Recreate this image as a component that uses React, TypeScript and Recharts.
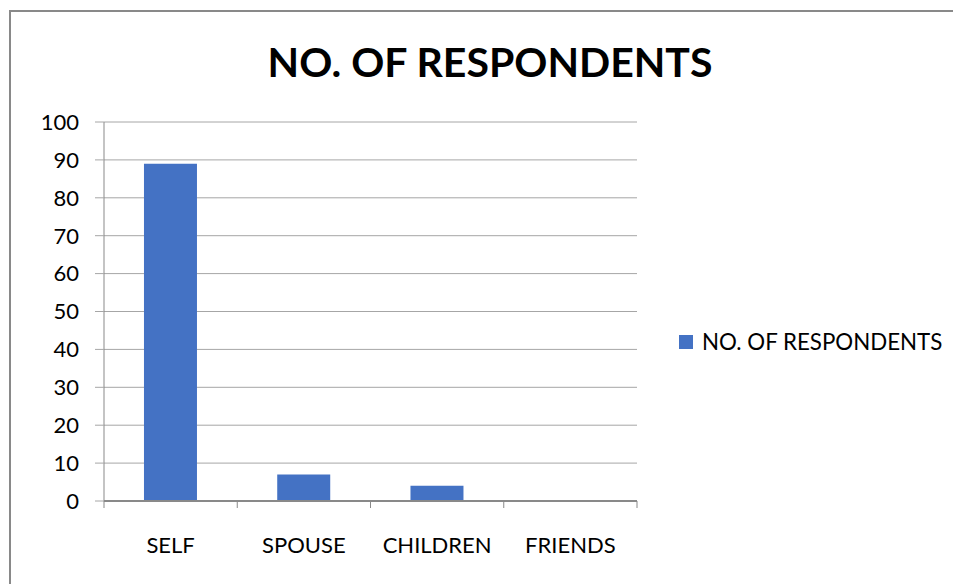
import { BarChart, Bar, XAxis, YAxis, CartesianGrid, Legend } from "recharts";

const categories = ["SELF", "SPOUSE", "CHILDREN", "FRIENDS"];
const respondents = [89, 7, 4, 0];
const yTicks = [0, 10, 20, 30, 40, 50, 60, 70, 80, 90, 100];
const seriesName = "NO. OF RESPONDENTS";
const title = "NO. OF RESPONDENTS";

const data = categories.map((c, i) => ({ name: c, value: respondents[i] }));

const FONT = "Lato, 'Open Sans', sans-serif";
const AXIS = "#898989";
const GRID = "#a6a6a6";
const BLUE = "#4472C4";
const LABEL_GAP = 36;
const EDGE_TICK = 7;

// category label plus the small marks on the band edges
function CategoryTick(props: any) {
  const { x, y, payload, index, visibleTicksCount } = props;
  const half = payload?.offset ?? 0;
  const axisY = y - LABEL_GAP;
  const last = index === visibleTicksCount - 1;
  return (
    <g>
      <line x1={x - half} x2={x - half} y1={axisY} y2={axisY + EDGE_TICK} stroke={AXIS} />
      {last && <line x1={x + half} x2={x + half} y1={axisY} y2={axisY + EDGE_TICK} stroke={AXIS} />}
      <text x={x} y={y} dy="0.71em" textAnchor="middle" fill="#000" fontSize={22} fontFamily={FONT}>
        {payload.value}
      </text>
    </g>
  );
}

function LegendBox({ payload }: any) {
  return (
    <div style={{ fontFamily: FONT, fontSize: 22.3, color: "#000" }}>
      {(payload || []).map((p: any, i: number) => (
        <div key={i} style={{ display: "flex", alignItems: "center", whiteSpace: "nowrap" }}>
          <span style={{ width: 14, height: 14, background: p.color, display: "inline-block", marginRight: 9 }} />
          <span>{p.value}</span>
        </div>
      ))}
    </div>
  );
}

export default function App() {
  return (
    <div style={{ position: "relative", width: 953, height: 576, overflow: "hidden", background: "#fff" }}>
      <div
        style={{
          position: "absolute",
          left: 1,
          top: 2,
          width: 1000,
          height: 1000,
          border: `2px solid ${AXIS}`,
          boxSizing: "border-box",
        }}
      />
      <div
        style={{
          position: "absolute",
          left: 0,
          width: 964,
          top: 30,
          textAlign: "center",
          fontFamily: FONT,
          fontWeight: 700,
          fontSize: 41,
          lineHeight: "48px",
          color: "#000",
        }}
      >
        {title}
      </div>
      <div style={{ position: "absolute", left: 0, top: 0 }}>
        <BarChart
          width={953}
          height={576}
          data={data}
          margin={{ top: 114, right: 324, bottom: 23, left: 0 }}
          barCategoryGap="30%"
        >
          <CartesianGrid vertical={false} stroke={GRID} />
          <XAxis
            dataKey="name"
            height={60}
            tickLine={false}
            axisLine={{ stroke: AXIS, strokeWidth: 2 }}
            tickSize={0}
            tickMargin={LABEL_GAP}
            interval={0}
            tick={<CategoryTick />}
          />
          <YAxis
            width={96}
            domain={[0, 100]}
            ticks={yTicks}
            interval={0}
            axisLine={{ stroke: AXIS }}
            tickLine={{ stroke: GRID }}
            tickSize={9}
            tickMargin={16}
            tick={{ fill: "#000", fontSize: 22, fontFamily: FONT }}
          />
          <Legend
            layout="horizontal"
            verticalAlign="middle"
            align="center"
            content={<LegendBox />}
            wrapperStyle={{ left: 671, top: 320, width: 280 }}
          />
          <Bar dataKey="value" name={seriesName} fill={BLUE} isAnimationActive={false} />
        </BarChart>
      </div>
    </div>
  );
}
